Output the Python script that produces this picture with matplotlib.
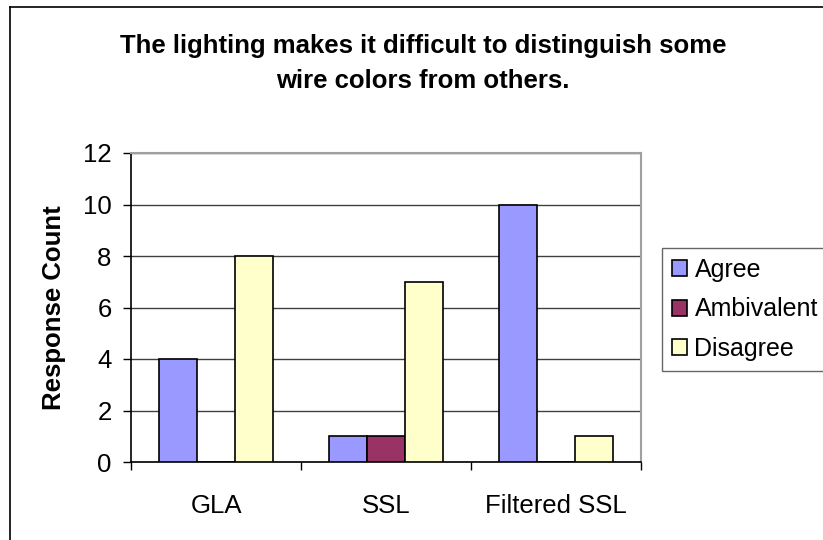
import numpy as np
import matplotlib.pyplot as plt
from matplotlib.lines import Line2D

plt.rcParams['font.family'] = ['Liberation Sans', 'DejaVu Sans']

categories = ['GLA', 'SSL', 'Filtered SSL']
series = ['Agree', 'Ambivalent', 'Disagree']
agree = [4, 1, 10]
ambivalent = [0, 1, 0]
disagree = [8, 7, 1]
colors = ['#9999FF', '#993366', '#FFFFCC']

fig = plt.figure(figsize=(8.23, 5.4), dpi=100)
ax = fig.add_axes([131 / 823, 1 - 462 / 540, 510 / 823, 309 / 540])

x = np.arange(len(categories))
w = 1 / 4.5
for i, (vals, c, name) in enumerate(zip([agree, ambivalent, disagree], colors, series)):
    ax.bar(x + (i - 1) * w, vals, w, color=c, edgecolor='black', linewidth=1.2,
           label=name, zorder=3)

ax.set_xlim(-0.5, 2.5)
ax.set_ylim(0, 12)
ax.set_yticks(range(0, 13, 2))
ax.yaxis.grid(True, color='#404040', linewidth=1, zorder=0)
ax.set_axisbelow(True)

ax.set_xticks(x)
ax.set_xticklabels(categories, fontsize=18.5)
ax.tick_params(axis='x', length=0, pad=23)
ax.set_xticks([-0.5, 0.5, 1.5, 2.5], minor=True)
ax.tick_params(axis='x', which='minor', length=6, width=1, color='black', direction='out')
ax.tick_params(axis='y', labelsize=18.5, length=6, width=1, direction='out', pad=8)

for s in ['top', 'right']:
    ax.spines[s].set_color('#A0A0A0')
    ax.spines[s].set_linewidth(1.5)
for s in ['left', 'bottom']:
    ax.spines[s].set_color('black')
    ax.spines[s].set_linewidth(1.2)

ax.set_ylabel('Response Count', fontsize=18.5, fontweight='bold', labelpad=12)

fig.text(423 / 823, 1 - 63.5 / 540,
         'The lighting makes it difficult to distinguish some\nwire colors from others.',
         ha='center', va='center', fontsize=18.5, fontweight='bold', linespacing=1.55)

leg = ax.legend(loc='upper left', bbox_to_anchor=(662 / 823, 1 - 248 / 540),
                bbox_transform=fig.transFigure, fontsize=18, frameon=True,
                fancybox=False, edgecolor='#404040', handlelength=0.6,
                handleheight=0.6, handletextpad=0.3, borderpad=0.4,
                labelspacing=0.62, borderaxespad=0)
leg.get_frame().set_linewidth(1)

# outer chart border (only left and top are visible in the crop)
fig.add_artist(Line2D([10 / 823, 10 / 823], [0, 1 - 7 / 540], color='black',
                      linewidth=1.2, transform=fig.transFigure))
fig.add_artist(Line2D([10 / 823, 1], [1 - 7 / 540, 1 - 7 / 540], color='black',
                      linewidth=1.2, transform=fig.transFigure))

fig.savefig('out.png', dpi=100)
